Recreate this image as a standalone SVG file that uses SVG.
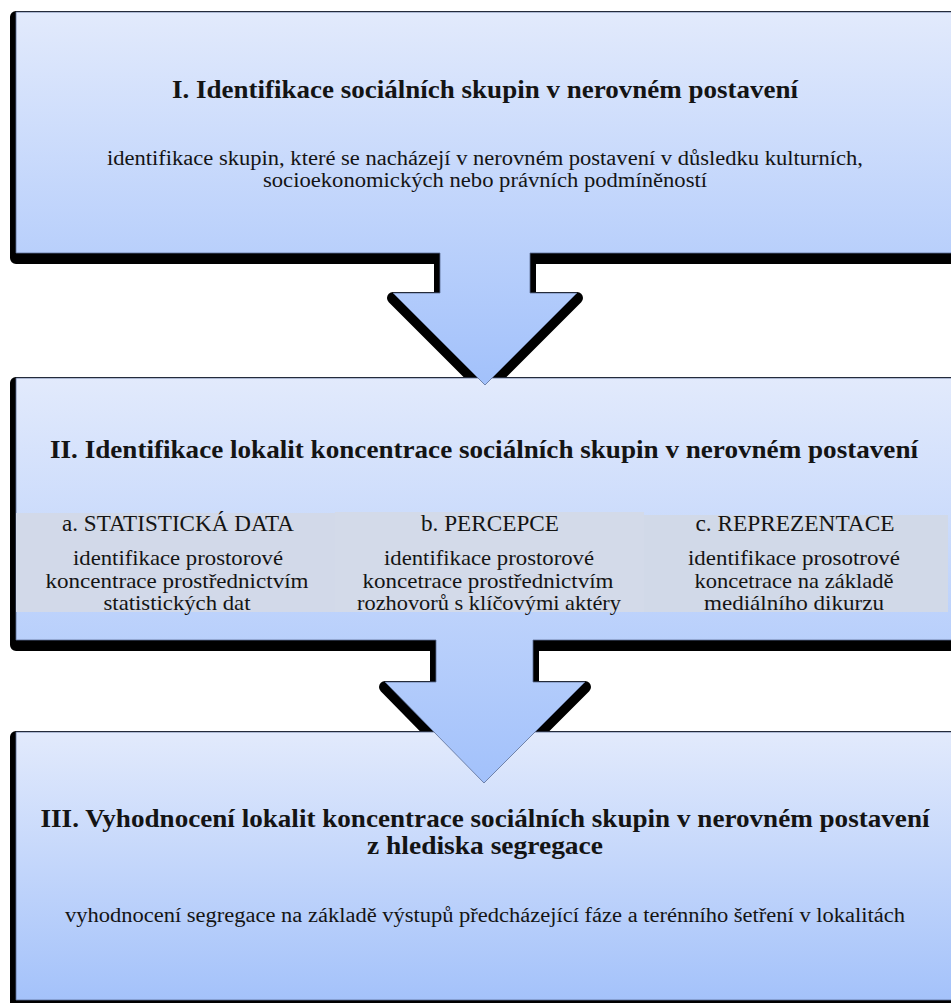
<svg xmlns="http://www.w3.org/2000/svg" width="951" height="1003" viewBox="0 0 951 1003">
<style>
.sh{fill:#000;stroke:#000;stroke-width:12;stroke-linejoin:round}
.fl{stroke:#5a6d96;stroke-width:0.8;stroke-linejoin:round}
text{font-family:"Liberation Serif","Times New Roman",serif;fill:#141414;text-anchor:middle}
.t{font-size:25px;font-weight:bold}
.b{font-size:20px}
.h{font-size:23px}
.c{font-size:21px}
</style>
<defs>
<linearGradient id="g1" gradientUnits="userSpaceOnUse" x1="0" y1="12" x2="0" y2="385">
<stop offset="0" stop-color="#e2eafc"/><stop offset="1" stop-color="#a2c1fb"/>
</linearGradient>
<linearGradient id="g2" gradientUnits="userSpaceOnUse" x1="0" y1="378" x2="0" y2="783">
<stop offset="0" stop-color="#e2eafc"/><stop offset="1" stop-color="#a2c1fb"/>
</linearGradient>
<linearGradient id="g3" gradientUnits="userSpaceOnUse" x1="0" y1="732" x2="0" y2="1000">
<stop offset="0" stop-color="#e2eafc"/><stop offset="1" stop-color="#a4c2fa"/>
</linearGradient>
</defs>
<g id="shadows">
<path class="sh" transform="translate(0,5)" d="M16,12 H980 V253 H530 V293 H577 L485,385 L393,293 H440 V253 H16 Z"/>
<path class="sh" transform="translate(0,5)" d="M16,378 H980 V640 H533 V682 H585 L484,783 L385,682 H436 V640 H16 Z"/>
<path class="sh" transform="translate(0,5)" d="M16,732 H980 V1000 H16 Z"/>
</g>
<g id="node3">
<path class="fl" fill="url(#g3)" d="M16,732 H980 V1000 H16 Z"/>
<text class="t" x="485" y="827" textLength="889" lengthAdjust="spacingAndGlyphs">III. Vyhodnocení lokalit koncentrace sociálních skupin v nerovném postavení</text>
<text class="t" x="485" y="854" textLength="236" lengthAdjust="spacingAndGlyphs">z hlediska segregace</text>
<text class="b" x="485" y="922" textLength="840" lengthAdjust="spacingAndGlyphs">vyhodnocení segregace na základě výstupů předcházející fáze a terénního šetření v lokalitách</text>
</g>
<g id="node2">
<path class="fl" fill="url(#g2)" d="M16,378 H980 V640 H533 V682 H585 L484,783 L385,682 H436 V640 H16 Z"/>
<text class="t" x="484" y="458" textLength="868" lengthAdjust="spacingAndGlyphs">II. Identifikace lokalit koncentrace sociálních skupin v nerovném postavení</text>
<g id="node2a">
<rect x="16" y="513" width="319" height="99" fill="#d2d9e9"/>
<text class="h" x="178" y="531" textLength="232" lengthAdjust="spacingAndGlyphs">a. STATISTICKÁ DATA</text>
<text class="c" x="178" y="565" textLength="210" lengthAdjust="spacingAndGlyphs">identifikace prostorové</text>
<text class="c" x="177" y="588" textLength="263" lengthAdjust="spacingAndGlyphs">koncentrace prostřednictvím</text>
<text class="c" x="177" y="610" textLength="147" lengthAdjust="spacingAndGlyphs">statistických dat</text>
</g>
<g id="node2b">
<rect x="335" y="512" width="309" height="100" fill="#d3dae9"/>
<text class="h" x="490" y="531" textLength="138" lengthAdjust="spacingAndGlyphs">b. PERCEPCE</text>
<text class="c" x="489" y="565" textLength="210" lengthAdjust="spacingAndGlyphs">identifikace prostorové</text>
<text class="c" x="488" y="588" textLength="251" lengthAdjust="spacingAndGlyphs">koncetrace prostřednictvím</text>
<text class="c" x="489" y="610" textLength="264" lengthAdjust="spacingAndGlyphs">rozhovorů s klíčovými aktéry</text>
</g>
<g id="node2c">
<rect x="644" y="515" width="304" height="97" fill="#d1d9e8"/>
<text class="h" x="795" y="531" textLength="199" lengthAdjust="spacingAndGlyphs">c. REPREZENTACE</text>
<text class="c" x="794" y="565" textLength="212" lengthAdjust="spacingAndGlyphs">identifikace prosotrové</text>
<text class="c" x="794" y="588" textLength="199" lengthAdjust="spacingAndGlyphs">koncetrace na základě</text>
<text class="c" x="794" y="610" textLength="180" lengthAdjust="spacingAndGlyphs">mediálního dikurzu</text>
</g>
</g>
<g id="node1">
<path class="fl" fill="url(#g1)" d="M16,12 H980 V253 H530 V293 H577 L485,385 L393,293 H440 V253 H16 Z"/>
<text class="t" x="485" y="98" textLength="626" lengthAdjust="spacingAndGlyphs">I. Identifikace sociálních skupin v nerovném postavení</text>
<text class="b" x="485" y="165" textLength="756" lengthAdjust="spacingAndGlyphs">identifikace skupin, které se nacházejí v nerovném postavení v důsledku kulturních,</text>
<text class="b" x="485" y="187" textLength="444" lengthAdjust="spacingAndGlyphs">socioekonomických nebo právních podmíněností</text>
</g>
</svg>
